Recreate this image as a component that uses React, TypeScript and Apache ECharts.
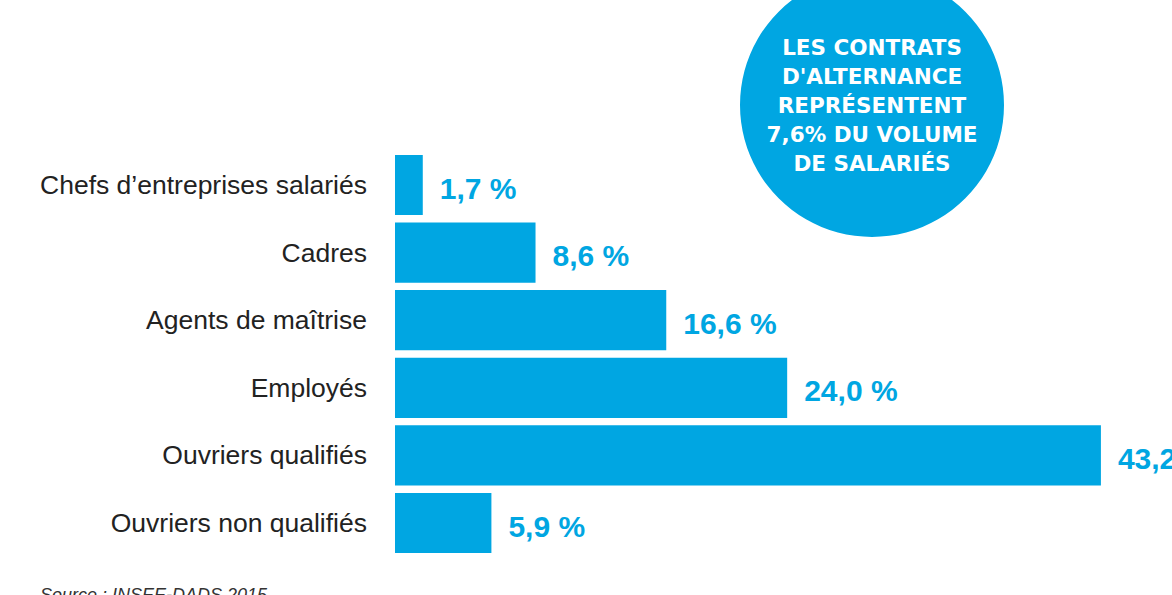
import React, { useEffect, useRef } from "react";
import * as echarts from "echarts";

const categories = [
  "Chefs d\u2019entreprises salariés",
  "Cadres",
  "Agents de maîtrise",
  "Employés",
  "Ouvriers qualifiés",
  "Ouvriers non qualifiés",
];
const values = [1.7, 8.6, 16.6, 24.0, 43.2, 5.9];
const circleLines = [
  "LES CONTRATS",
  "D'ALTERNANCE",
  "REPRÉSENTENT",
  "7,6% DU VOLUME",
  "DE SALARIÉS",
];
const sourceText = "Source : INSEE-DADS 2015";

const BLUE = "#00a6e2";

export default function App() {
  const ref = useRef<HTMLDivElement>(null);
  useEffect(() => {
    if (!ref.current) return;
    const chart = echarts.init(ref.current, null, { renderer: "svg" });
    chart.setOption({
      animation: false,
      backgroundColor: "#ffffff",
      grid: { left: 395, right: 0, top: 151.2, bottom: 38.2, containLabel: false },
      xAxis: {
        type: "value",
        min: 0,
        max: 47.55,
        show: false,
      },
      yAxis: {
        type: "category",
        data: categories,
        inverse: true,
        axisLine: { show: false },
        axisTick: { show: false },
        axisLabel: {
          margin: 28,
          fontFamily: "Liberation Sans, Arial, sans-serif",
          fontSize: 26.5,
          color: "#222222",
          padding: [0, 0, 10, 0],
        },
      },
      series: [
        {
          type: "bar",
          data: values,
          barCategoryGap: "11%",
          itemStyle: { color: BLUE },
          label: {
            show: true,
            position: "right",
            distance: 17,
            offset: [0, 3],
            formatter: (p: any) => p.value.toFixed(1).replace(".", ",") + " %",
            fontFamily: "Liberation Sans, Arial, sans-serif",
            fontWeight: "bold",
            fontSize: 30,
            color: BLUE,
          },
        },
      ],
      graphic: [
        {
          type: "circle",
          shape: { cx: 872, cy: 105, r: 132 },
          style: { fill: BLUE },
          z: 10,
        },
        ...circleLines.map((t, i) => ({
          type: "text",
          x: 872,
          y: 47 + i * 29,
          z: 11,
          style: {
            text: t,
            fill: "#ffffff",
            font: "bold 21.5px 'DejaVu Sans', sans-serif",
            textAlign: "center",
            textVerticalAlign: "middle",
          },
        })),
        {
          type: "text",
          x: 40,
          y: 586,
          style: {
            text: sourceText,
            fill: "#333333",
            font: "italic 18px 'Liberation Sans', Arial, sans-serif",
            textAlign: "left",
            textVerticalAlign: "top",
          },
        },
      ],
    });
    return () => chart.dispose();
  }, []);
  return (
    <div
      ref={ref}
      style={{ position: "fixed", left: 0, top: 0, width: 1172, height: 595 }}
    />
  );
}
